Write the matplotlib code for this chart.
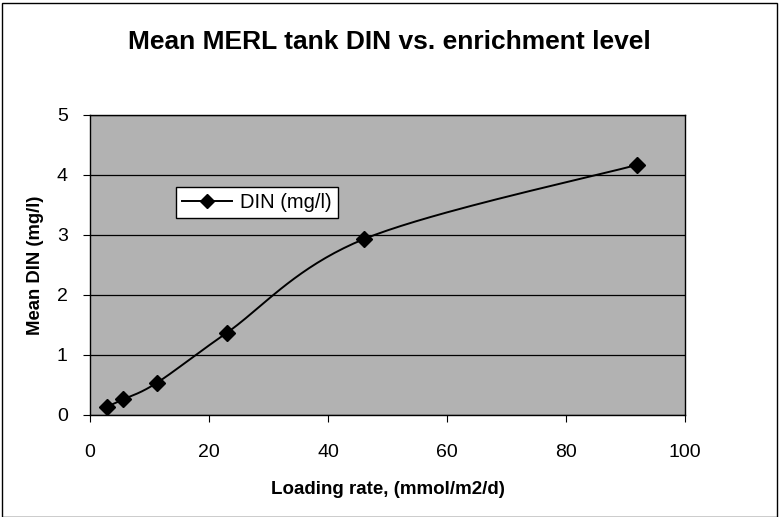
import numpy as np
import matplotlib.pyplot as plt
from matplotlib.patches import Rectangle

# data
loading_rate = [2.8, 5.6, 11.3, 23.0, 46.0, 92.0]
mean_din = [0.14, 0.26, 0.54, 1.37, 2.93, 4.17]
x_ticks = [0, 20, 40, 60, 80, 100]
y_ticks = [0, 1, 2, 3, 4, 5]

plt.rcParams["font.family"] = ["Liberation Sans", "DejaVu Sans"]


def smooth(xs, ys, n=40):
    # Excel-style smoothed line (Catmull-Rom through the points)
    p = np.column_stack([xs, ys]).astype(float)
    p = np.vstack([p[0], p, p[-1]])
    out = []
    for i in range(1, len(p) - 2):
        p0, p1, p2, p3 = p[i - 1], p[i], p[i + 1], p[i + 2]
        t = np.linspace(0, 1, n)[:, None]
        c = 0.5 * ((2 * p1) + (-p0 + p2) * t + (2 * p0 - 5 * p1 + 4 * p2 - p3) * t**2
                   + (-p0 + 3 * p1 - 3 * p2 + p3) * t**3)
        out.append(c)
    c = np.vstack(out)
    return c[:, 0], c[:, 1]


fig = plt.figure(figsize=(7.79, 5.17), dpi=100)
ax = fig.add_axes([0.1155, 0.1973, 0.7638, 0.5803])
ax.set_facecolor("#b2b2b2")

sx, sy = smooth(loading_rate, mean_din)
ax.plot(sx, sy, color="black", lw=1.4, zorder=3)
ax.plot(loading_rate, mean_din, ls="none", marker="D", ms=8, color="black", zorder=4)
ax.plot([], [], color="black", lw=1.4, marker="D", ms=7, label="DIN (mg/l)")

ax.set_xlim(0, 100)
ax.set_ylim(0, 5)
ax.set_xticks(x_ticks)
ax.set_yticks(y_ticks)
ax.grid(axis="y", color="black", lw=0.9)
ax.set_axisbelow(True)
ax.tick_params(labelsize=14, length=5, direction="out")
ax.tick_params(axis="x", pad=16)
ax.tick_params(axis="y", pad=11)
for s in ax.spines.values():
    s.set_linewidth(1.0)

ax.set_xlabel("Loading rate, (mmol/m2/d)", fontsize=13.5, fontweight="bold", labelpad=14)
ax.set_ylabel("Mean DIN (mg/l)", fontsize=13.3, fontweight="bold", labelpad=9)
fig.text(0.5, 1 - 42 / 517, "Mean MERL tank DIN vs. enrichment level", fontsize=19,
         fontweight="bold", ha="center", va="center")

leg = ax.legend(loc="upper left", bbox_to_anchor=(0.1445, 0.76), borderaxespad=0,
                fontsize=14.5, frameon=True, fancybox=False, edgecolor="black",
                framealpha=1, handlelength=2.5, handletextpad=0.4, borderpad=0.3)
leg.get_frame().set_linewidth(1.0)

fig.patches.append(Rectangle((0.003, 0.0), 0.994, 0.995, transform=fig.transFigure,
                             fill=False, edgecolor="black", lw=1.0))

fig.savefig("out.png", dpi=100)
